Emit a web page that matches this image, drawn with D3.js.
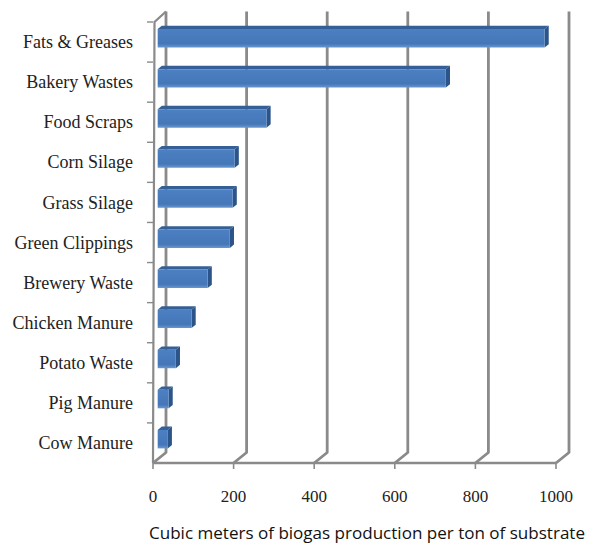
<!DOCTYPE html>
<html>
<head>
<meta charset="utf-8">
<script src="https://cdn.jsdelivr.net/npm/d3@7/dist/d3.min.js"></script>
<style>
  body { margin: 0; background: #fff; }
  svg { display: block; }
</style>
</head>
<body>
<div id="chart"></div>
<script>
// data
const categories = [
  "Fats & Greases", "Bakery Wastes", "Food Scraps", "Corn Silage",
  "Grass Silage", "Green Clippings", "Brewery Waste", "Chicken Manure",
  "Potato Waste", "Pig Manure", "Cow Manure"
];
const values = [960, 715, 270, 191, 186, 179, 124, 84, 45, 27, 25];
const tickValues = [0, 200, 400, 600, 800, 1000];
const axisTitle = "Cubic meters of biogas production per ton of substrate";

const width = 590, height = 545;
const front = { left: 153, right: 556, top: 22, bottom: 463 };
// depth offset of the 3d box (back wall relative to front plane)
const depth = { dx: 13, dy: -10.5 };
const barD0 = 0.36, barD1 = 0.68;

const svg = d3.select("#chart").append("svg")
  .attr("width", width)
  .attr("height", height);

const x = d3.scaleLinear().domain([0, 1000]).range([front.left, front.right]);
const y = d3.scaleBand().domain(categories).range([front.top, front.bottom]).paddingInner(0.54).paddingOuter(0.27);
const yBand = d3.scaleBand().domain(categories).range([front.top, front.bottom]);

const proj = (px, py, d) => [px + d * depth.dx, py + d * depth.dy];

const gridColor = "#8a8a8a";

// back wall gridlines + floor diagonals
const grid = svg.append("g").attr("class", "grid");
tickValues.forEach(t => {
  const [bx, by] = proj(x(t), front.top, 1);
  const [fx, fy] = proj(x(t), front.bottom, 1);
  grid.append("path")
    .attr("d", d3.line()([[bx, front.top + depth.dy], [fx, fy], [x(t), front.bottom]]))
    .attr("fill", "none")
    .attr("stroke", gridColor)
    .attr("stroke-width", 2.8)
    .attr("stroke-linejoin", "round");
});

// left wall front edge and top diagonal
grid.append("path")
  .attr("d", d3.line()([proj(x(0), front.top, 1), [x(0) + 1.5, front.top], [x(0), front.bottom]]))
  .attr("fill", "none")
  .attr("stroke", gridColor)
  .attr("stroke-width", 2.2);

// floor front edge
grid.append("line")
  .attr("x1", x(0)).attr("x2", x(1000))
  .attr("y1", front.bottom).attr("y2", front.bottom)
  .attr("stroke", gridColor)
  .attr("stroke-width", 2.4);

// tick marks
tickValues.forEach(t => {
  grid.append("line")
    .attr("x1", x(t)).attr("x2", x(t))
    .attr("y1", front.bottom).attr("y2", front.bottom + 6)
    .attr("stroke", gridColor).attr("stroke-width", 1.6);
});
categories.forEach(c => {
  grid.append("line")
    .attr("x1", x(0) - 6).attr("x2", x(0))
    .attr("y1", yBand(c)).attr("y2", yBand(c))
    .attr("stroke", gridColor).attr("stroke-width", 1.4);
});

// gradient for bar front
const defs = svg.append("defs");
const grad = defs.append("linearGradient").attr("id", "barFront")
  .attr("x1", 0).attr("y1", 0).attr("x2", 0).attr("y2", 1);
grad.append("stop").attr("offset", "0%").attr("stop-color", "#4c80c2");
grad.append("stop").attr("offset", "80%").attr("stop-color", "#4577b8");
grad.append("stop").attr("offset", "100%").attr("stop-color", "#6a97cf");

// bars
const bars = svg.append("g").attr("class", "bars")
  .selectAll("g")
  .data(categories.map((c, i) => ({ cat: c, val: values[i] })))
  .join("g");

bars.each(function (d) {
  const g = d3.select(this);
  const x0 = x(0), x1 = x(d.val);
  const yt = y(d.cat), yb = y(d.cat) + y.bandwidth();
  const fTL = proj(x0, yt, barD0), fTR = proj(x1, yt, barD0);
  const fBR = proj(x1, yb, barD0), fBL = proj(x0, yb, barD0);
  const bTL = proj(x0, yt, barD1), bTR = proj(x1, yt, barD1);
  const bBR = proj(x1, yb, barD1);
  // top face
  g.append("path")
    .attr("d", d3.line()([fTL, fTR, bTR, bTL]) + "Z")
    .attr("fill", "#355f97");
  // side face
  g.append("path")
    .attr("d", d3.line()([fTR, bTR, bBR, fBR]) + "Z")
    .attr("fill", "#2b5488");
  // front face
  g.append("path")
    .attr("d", d3.line()([fTL, fTR, fBR, fBL]) + "Z")
    .attr("fill", "url(#barFront)");
});

// category labels
svg.append("g").selectAll("text")
  .data(categories)
  .join("text")
  .attr("x", 133)
  .attr("y", c => yBand(c) + yBand.bandwidth() / 2 + 2)
  .attr("text-anchor", "end")
  .attr("dominant-baseline", "middle")
  .attr("font-family", "'Liberation Serif', 'Times New Roman', serif")
  .attr("font-size", 18)
  .attr("fill", "#222")
  .text(c => c);

// x tick labels
svg.append("g").selectAll("text")
  .data(tickValues)
  .join("text")
  .attr("x", t => x(t))
  .attr("y", 498)
  .attr("text-anchor", "middle")
  .attr("dominant-baseline", "middle")
  .attr("font-family", "'Liberation Serif', 'Times New Roman', serif")
  .attr("font-size", 17)
  .attr("fill", "#222")
  .text(t => t);

// axis title
svg.append("text")
  .attr("x", 367)
  .attr("y", 539)
  .attr("text-anchor", "middle")
  .attr("font-family", "'Open Sans', Lato, sans-serif")
  .attr("font-size", 16.5)
  .attr("textLength", 436)
  .attr("lengthAdjust", "spacingAndGlyphs")
  .attr("fill", "#111")
  .text(axisTitle);
</script>
</body>
</html>
